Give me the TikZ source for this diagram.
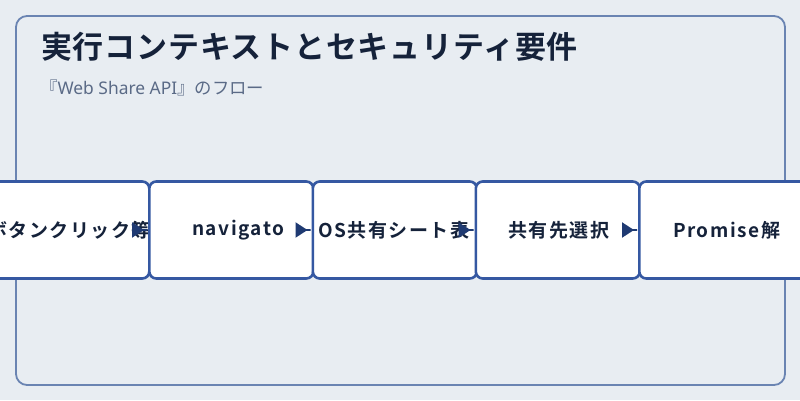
\documentclass[tikz,border=0pt]{standalone}
\usepackage{fontspec}
\setmainfont{Noto Sans CJK JP}
\newfontfamily\jptitle[LetterSpace=2.5]{Noto Sans CJK JP Bold}
\newfontfamily\jpboldsp[LetterSpace=8]{Noto Sans CJK JP Bold}
\newfontfamily\jpreg{Noto Sans CJK JP}
\newfontfamily\latinreg{Noto Sans}
\usetikzlibrary{arrows.meta}
\definecolor{bgc}{HTML}{E8EDF2}
\definecolor{framec}{HTML}{6A84B2}
\definecolor{boxc}{HTML}{3558A2}
\definecolor{arrc}{HTML}{1F3A72}
\definecolor{titlec}{HTML}{15223A}
\definecolor{subc}{HTML}{5A6A86}
\tikzset{
  stepbox/.style={draw=boxc, line width=2.6pt, fill=white, rounded corners=7pt,
    minimum width=164pt, minimum height=97pt, inner sep=0pt, anchor=west},
  steptext/.style={font=\jpboldsp\fontsize{19}{22}\selectfont, text=titlec, inner sep=0pt, anchor=west},
  flow/.style={draw=arrc, line width=2pt,
    -{Triangle[length=12pt,width=15pt] Rectangle[length=4pt,width=2pt]}},
}
\begin{document}
\begin{tikzpicture}[x=1pt,y=-1pt]
\useasboundingbox (0,0) rectangle (800,400);
\fill[bgc] (0,0) rectangle (800,400);
\draw[framec, line width=1.8pt, rounded corners=11pt] (16,16) rectangle (785,385);
\node[font=\jptitle\fontsize{31}{34}\selectfont, text=titlec, anchor=west, inner sep=0pt] (title) at (41,47) {実行コンテキストとセキュリティ要件};
\node[font=\jpreg\fontsize{17.4}{20}\selectfont, text=subc, anchor=west, inner sep=0pt] (sub) at (40,88) {『{\latinreg Web Share API}』のフロー};
% boxes and texts
\node[stepbox] (b1) at (-16,230) {};
\node[steptext] (t1) at (-12,230) {ボタンクリック等};
\node[stepbox] (b2) at (148,230) {};
\node[steptext] (t2) at (192,230) {navigato};
\node[stepbox] (b3) at (311.5,230) {};
\node[steptext] (t3) at (318,230) {OS共有シート表};
\node[stepbox] (b4) at (474.5,230) {};
\node[steptext] (t4) at (508,230) {共有先選択};
\node[stepbox, minimum width=172pt] (b5) at (638,230) {};
\node[steptext] (t5) at (673,230) {Promise解};
% connectors
\coordinate (a1) at (132,230);
\coordinate (a2) at (296,230);
\coordinate (a3) at (459,230);
\coordinate (a4) at (622,230);
\draw[flow] (a1) -- (b2.west);
\draw[flow] (a2) -- (b3.west);
\draw[flow] (a3) -- (b4.west);
\draw[flow] (a4) -- (b5.west);
\end{tikzpicture}
\end{document}
